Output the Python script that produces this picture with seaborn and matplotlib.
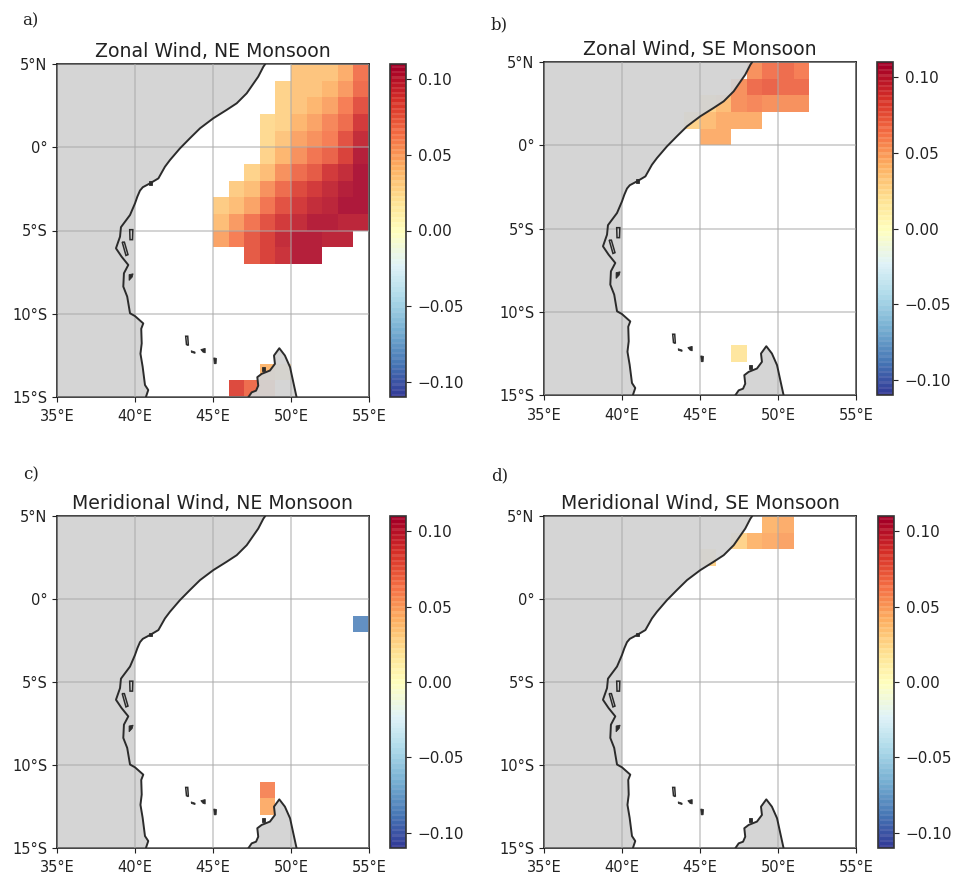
import matplotlib
matplotlib.use('Agg')
import matplotlib.pyplot as plt
import numpy as np
import pandas as pd
import seaborn as sns

# each row: latitude of cell centre, first longitude, values eastward
zonal_ne = [
    (4.5, 50, [.035, .035, .036, .045, .066]),
    (3.5, 49, [.03, .035, .037, .044, .052, .072]),
    (2.5, 49, [.028, .035, .043, .05, .062, .08]),
    (1.5, 48, [.025, .03, .043, .05, .06, .07, .09]),
    (0.5, 48, [.027, .035, .05, .055, .065, .08, .098]),
    (-0.5, 48, [.03, .043, .056, .066, .073, .088, .104]),
    (-1.5, 47, [.03, .04, .056, .07, .078, .09, .098, .108]),
    (-2.5, 46, [.032, .04, .055, .07, .084, .092, .099, .104, .11]),
    (-3.5, 45, [.032, .04, .05, .066, .082, .092, .097, .102, .107, .107]),
    (-4.5, 45, [.04, .052, .068, .08, .092, .097, .104, .105, .102, .1]),
    (-5.5, 45, [.05, .065, .077, .088, .097, .104, .105, .1, .1]),
    (-6.5, 47, [.077, .087, .094, .104, .104]),
    (-13.5, 48, [.042, .03]),
    (-14.5, 46, [.085, .07, .06]),
]
zonal_se = [
    (4.5, 48, [.055, .068, .072, .065]),
    (3.5, 47, [.055, .072, .073, .07, .07]),
    (2.5, 45, [.03, .04, .055, .06, .058, .056, .056]),
    (1.5, 44, [.03, .04, .048, .045, .045]),
    (0.5, 45, [.045, .047]),
    (-12.5, 47, [.02]),
]
merid_ne = [
    (-1.5, 54, [-.08]),
    (-11.5, 48, [.06]),
    (-12.5, 48, [.046]),
]
merid_se = [
    (4.5, 49, [.042, .046]),
    (3.5, 47, [.03, .043, .046, .05]),
    (2.5, 45, [.03]),
]
panel_rows = [zonal_ne, zonal_se, merid_ne, merid_se]
panel_titles = ['Zonal Wind, NE Monsoon', 'Zonal Wind, SE Monsoon',
                'Meridional Wind, NE Monsoon', 'Meridional Wind, SE Monsoon']
panel_letters = ['a)', 'b)', 'c)', 'd)']

lons = np.arange(35, 55)
lats = np.arange(4.5, -15.5, -1)

lon_ticks = [35, 40, 45, 50, 55]
lon_labels = ['35°E', '40°E', '45°E', '50°E', '55°E']
lat_ticks = [5, 0, -5, -10, -15]
lat_labels = ['5°N', '0°', '5°S', '10°S', '15°S']
cbar_ticks = [-.10, -.05, 0, .05, .10]

# coastline
coast_lon = np.array([48.35, 48.23, 47.9, 47.16, 46.52, 45.87, 45.02, 44.17, 43.52, 42.88, 42.24,
                      41.92, 41.5, 40.96, 40.5, 40.32, 40.15, 40.0, 39.68, 39.25, 39.1, 39.04, 38.78,
                      39.14, 39.57, 39.29, 39.25, 39.5, 39.68, 40.0, 40.53, 40.4, 40.43, 40.35, 40.49,
                      40.64, 40.85, 40.7])
coast_lat = np.array([5, 4.84, 4.24, 3.24, 2.64, 2.24, 1.74, 1.14, .54, -.07, -.77,
                      -1.17, -1.87, -2.17, -2.4, -2.6, -2.97, -3.37, -4.07, -4.61, -4.8, -5.37, -6.07,
                      -6.57, -7.07, -7.57, -8.37, -8.97, -9.97, -10.14, -10.58, -10.9, -11.78, -12.4, -13.18,
                      -14.28, -14.58, -15])
mada_lon = np.array([47.26, 47.48, 47.76, 47.9, 47.84, 48.12, 48.65, 48.97, 48.91, 49.25, 49.61, 49.94, 50.15, 50.36])
mada_lat = np.array([-15.02, -14.72, -14.62, -14.32, -13.81, -13.61, -13.41, -13.01, -12.51, -12.07, -12.51, -13.21, -14.12, -15.02])

open_islands = [
    ([39.66, 39.86, 39.84, 39.68], [-4.95, -4.95, -5.55, -5.55]),
    ([39.18, 39.32, 39.55, 39.42], [-5.7, -5.7, -6.45, -6.5]),
    ([43.25, 43.38, 43.42, 43.3], [-11.35, -11.35, -11.9, -11.85]),
]
dark_islands = [
    ([39.62, 39.88, 39.82, 39.62], [-7.65, -7.6, -7.8, -8.0]),
    ([43.6, 43.85, 43.85, 43.62], [-12.22, -12.3, -12.38, -12.32]),
    ([44.22, 44.5, 44.5, 44.35], [-12.15, -12.08, -12.35, -12.3]),
    ([45.05, 45.22, 45.2, 45.08], [-12.65, -12.68, -13.0, -13.0]),
    ([48.15, 48.32, 48.32, 48.15], [-13.22, -13.22, -13.42, -13.42]),
    ([40.9, 41.1, 41.1, 40.9], [-2.05, -2.05, -2.25, -2.25]),
]

# left, top, right, bottom in pixels
ax_boxes = [(57, 64, 369, 397), (544, 62, 856, 395), (57, 516, 369, 848), (544, 516, 856, 848)]
cax_boxes = [(390, 64, 406, 397), (877, 62, 893, 395), (390, 516, 406, 848), (878, 516, 894, 848)]
letter_pos = [(22, 21), (491, 25), (23, 475), (491, 476)]

W, H = 956, 874


def to_frame(rows):
    values = np.full((len(lats), len(lons)), np.nan)
    for lat, first, vals in rows:
        i = int(round(4.5 - lat))
        j = first - 35
        values[i, j:j + len(vals)] = vals
    return pd.DataFrame(values, index=lats, columns=lons)


def pixel_box(box):
    l, t, r, b = box
    return [l / W, 1 - b / H, (r - l) / W, (b - t) / H]


sns.set_style('white')
fig = plt.figure(figsize=(W / 100, H / 100), dpi=100)
cmap = plt.get_cmap('RdYlBu_r', 64)

for n in range(4):
    ax = fig.add_axes(pixel_box(ax_boxes[n]))
    cax = fig.add_axes(pixel_box(cax_boxes[n]))
    sns.heatmap(to_frame(panel_rows[n]), ax=ax, cbar_ax=cax, cmap=cmap, vmin=-.11, vmax=.11,
                alpha=.9, xticklabels=False, yticklabels=False, cbar_kws={'ticks': cbar_ticks})

    # heatmap axes count cells, 0 at 35E and at 5N
    fill_lon = np.where((coast_lat < -3.3) & (coast_lat > -10.2), 40, coast_lon)
    ax.fill(np.r_[fill_lon, 35, 35] - 35, 5 - np.r_[coast_lat, -15, 5],
            color='#d3d3d3', alpha=.94, lw=0, zorder=2)
    ax.fill(mada_lon - 35, 5 - mada_lat, color='#d3d3d3', alpha=.94, lw=0, zorder=2)
    ax.plot(coast_lon - 35, 5 - coast_lat, color='#2b2b2b', lw=1.4, zorder=3)
    ax.plot(mada_lon - 35, 5 - mada_lat, color='#2b2b2b', lw=1.4, zorder=3)
    for ilon, ilat in open_islands:
        ax.fill(np.array(ilon) - 35, 5 - np.array(ilat), facecolor='none',
                edgecolor='#2b2b2b', lw=1.1, zorder=3)
    for ilon, ilat in dark_islands:
        ax.fill(np.array(ilon) - 35, 5 - np.array(ilat), color='#2b2b2b', lw=.6, zorder=3)

    ax.set_xticks([lon - 35 for lon in lon_ticks])
    ax.set_xticklabels(lon_labels, rotation=0)
    ax.set_yticks([5 - lat for lat in lat_ticks])
    ax.set_yticklabels(lat_labels, rotation=0)
    ax.tick_params(left=True, bottom=True, length=3.5, width=.8, labelsize=10.5, color='#222222',
                   labelcolor='#222222', pad=3.5)
    ax.tick_params(axis='x', pad=5.5)
    ax.set_axisbelow(False)
    ax.grid(True, color='#aaaaaa', alpha=.55, lw=1.3)
    for side in ax.spines.values():
        side.set_visible(True)
        side.set_color('#222222')
        side.set_linewidth(1.2)
    ax.set_title(panel_titles[n], fontsize=13.6, color='#222222', pad=5)

    cbar = ax.collections[0].colorbar
    cbar.solids.set_edgecolor('face')
    cbar.outline.set_visible(True)
    cbar.outline.set_edgecolor('#333333')
    cbar.outline.set_linewidth(1.2)
    cax.tick_params(right=True, length=3.5, width=.8, labelsize=11, color='#222222',
                    labelcolor='#222222', pad=5)

    fig.text(letter_pos[n][0] / W, 1 - letter_pos[n][1] / H, panel_letters[n], family='DejaVu Serif',
             fontsize=12, color='#222222', va='center', ha='left')

fig.savefig('out.png', dpi=100)
